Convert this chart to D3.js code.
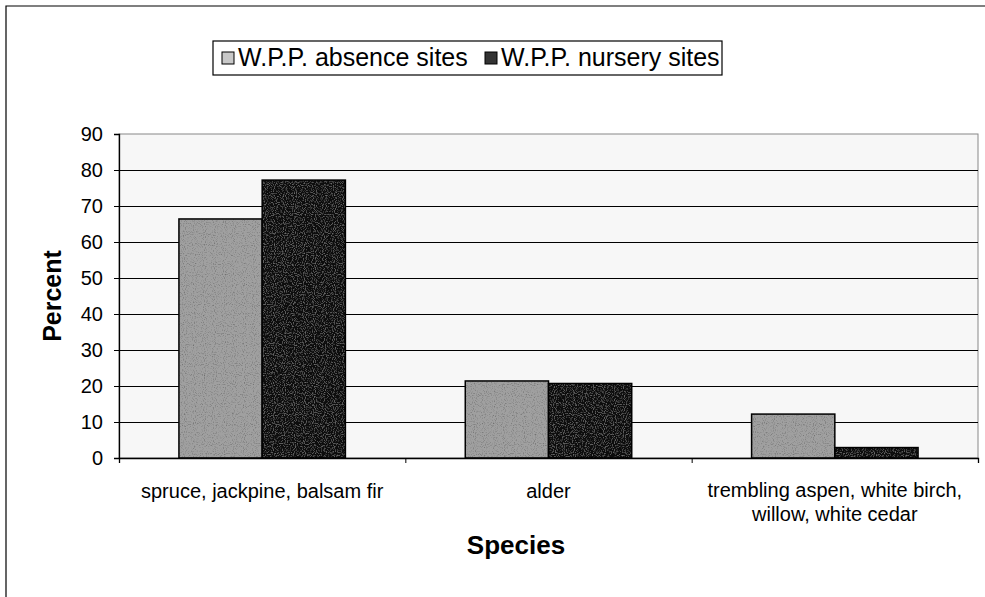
<!DOCTYPE html>
<html>
<head>
<meta charset="utf-8">
<script src="https://cdn.jsdelivr.net/npm/d3@7"></script>
<style>
  body { margin: 0; background: #fff; }
  text { font-family: Arial, "Liberation Sans", sans-serif; fill: #000; }
</style>
</head>
<body>
<div id="chart"></div>
<script>
const width = 985;
const height = 597;

// dados
const categories = [
    ["spruce, jackpine, balsam fir"],
    ["alder"],
    ["trembling aspen, white birch,", "willow, white cedar"]
];
const seriesNames = ["W.P.P. absence sites", "W.P.P. nursery sites"];
const absence = [66.4, 21.4, 12.2];
const nursery = [77.2, 20.7, 2.9];
const yTicks = [0, 10, 20, 30, 40, 50, 60, 70, 80, 90];

const plot = { left: 119, right: 978, top: 134, bottom: 458 };

const svg = d3.select("#chart").append("svg")
    .attr("width", width)
    .attr("height", height);

// textura granulada das barras
const defs = svg.append("defs");
function grain(id, base, amount) {
    const f = defs.append("filter").attr("id", id)
        .attr("x", 0).attr("y", 0).attr("width", 1).attr("height", 1);
    f.append("feTurbulence").attr("type", "fractalNoise")
        .attr("baseFrequency", 0.9).attr("numOctaves", 1).attr("seed", 3).attr("result", "n");
    f.append("feColorMatrix").attr("in", "n").attr("type", "matrix")
        .attr("values", `0 0 0 0 ${base}  0 0 0 0 ${base}  0 0 0 0 ${base}  ${amount} 0 0 0 ${-amount / 2}`)
        .attr("result", "g");
    f.append("feComposite").attr("in", "g").attr("in2", "SourceGraphic").attr("operator", "atop");
}
grain("grainLight", 0, 1.6);
grain("grainDark", 1, 0.5);

// borda externa (cortada à direita e embaixo)
svg.append("path")
    .attr("d", "M6,597V6H985")
    .attr("fill", "none")
    .attr("stroke", "#000")
    .attr("stroke-width", 1.2);

const x = d3.scaleBand()
    .domain(d3.range(categories.length))
    .range([plot.left, plot.right])
    .paddingInner(0)
    .paddingOuter(0);

const xs = d3.scaleBand()
    .domain(d3.range(seriesNames.length))
    .range([0, x.bandwidth()])
    .paddingOuter(0.72);

const y = d3.scaleLinear()
    .domain([0, 90])
    .range([plot.bottom, plot.top]);

// fundo da área de plotagem
svg.append("rect")
    .attr("x", plot.left).attr("y", plot.top)
    .attr("width", plot.right - plot.left).attr("height", plot.bottom - plot.top)
    .attr("fill", "#f7f7f7")
    .attr("stroke", "#888")
    .attr("stroke-width", 1);

// linhas de grade
svg.append("g")
    .selectAll("line")
    .data(yTicks.filter(d => d > 0 && d < 90))
    .enter().append("line")
    .attr("x1", plot.left).attr("x2", plot.right)
    .attr("y1", d => y(d) + 0.5).attr("y2", d => y(d) + 0.5)
    .attr("stroke", "#000")
    .attr("stroke-width", 1);

// barras
const colors = ["#a0a0a0", "#0a0a0a"];
const filters = ["url(#grainLight)", "url(#grainDark)"];
const data = [absence, nursery];

data.forEach((vals, s) => {
    svg.append("g")
        .selectAll("rect")
        .data(vals)
        .enter().append("rect")
        .attr("x", (d, i) => x(i) + xs(s))
        .attr("y", d => y(d))
        .attr("width", xs.bandwidth())
        .attr("height", d => y(0) - y(d))
        .attr("fill", colors[s])
        .attr("filter", filters[s]);
    svg.append("g")
        .selectAll("rect")
        .data(vals)
        .enter().append("rect")
        .attr("x", (d, i) => x(i) + xs(s))
        .attr("y", d => y(d))
        .attr("width", xs.bandwidth())
        .attr("height", d => y(0) - y(d))
        .attr("fill", "none")
        .attr("stroke", "#000")
        .attr("stroke-width", 1.5);
});

// eixo y
const yAxis = svg.append("g")
    .attr("transform", `translate(${plot.left},0)`)
    .call(d3.axisLeft(y).tickValues(yTicks).tickSize(5).tickPadding(11));
yAxis.select(".domain").attr("stroke", "#000").attr("stroke-width", 1.3);
yAxis.selectAll("text").style("font-size", "20px").style("font-family", "Arial, sans-serif");

// eixo x
const xAxis = svg.append("g")
    .attr("transform", `translate(0,${plot.bottom})`)
    .call(d3.axisBottom(d3.scaleLinear().domain([0, 3]).range([plot.left, plot.right]))
        .tickValues([0, 1, 2, 3]).tickSize(5).tickFormat(""));
xAxis.select(".domain").attr("stroke", "#000").attr("stroke-width", 1.3);

// rótulos das categorias
const catLabels = svg.append("g")
    .selectAll("text")
    .data(categories)
    .enter().append("text")
    .attr("x", (d, i) => x(i) + x.bandwidth() / 2)
    .attr("y", d => d.length > 1 ? 497 : 498)
    .attr("text-anchor", "middle")
    .style("font-size", "20px");
catLabels.selectAll("tspan")
    .data(d => d)
    .enter().append("tspan")
    .attr("x", function () { return this.parentNode.getAttribute("x"); })
    .attr("dy", (d, i) => i === 0 ? 0 : 24)
    .text(d => d);

// títulos dos eixos
svg.append("text")
    .attr("x", 516).attr("y", 554)
    .attr("text-anchor", "middle")
    .style("font-size", "26px").style("font-weight", "bold")
    .text("Species");

svg.append("text")
    .attr("transform", "translate(61,296) rotate(-90)")
    .attr("text-anchor", "middle")
    .style("font-size", "25px").style("font-weight", "bold")
    .text("Percent");

// legenda
const legend = svg.append("g");
legend.append("rect")
    .attr("x", 213).attr("y", 41)
    .attr("width", 509).attr("height", 34)
    .attr("fill", "#fff")
    .attr("stroke", "#000")
    .attr("stroke-width", 1.2);

const legendX = [222, 485];
seriesNames.forEach((name, s) => {
    legend.append("rect")
        .attr("x", legendX[s]).attr("y", 52)
        .attr("width", 12).attr("height", 12)
        .attr("fill", s === 0 ? "#c8c8c8" : "#333")
        .attr("stroke", "#000");
    legend.append("text")
        .attr("x", legendX[s] + 16).attr("y", 66)
        .style("font-size", "25px")
        .text(name);
});
</script>
</body>
</html>
